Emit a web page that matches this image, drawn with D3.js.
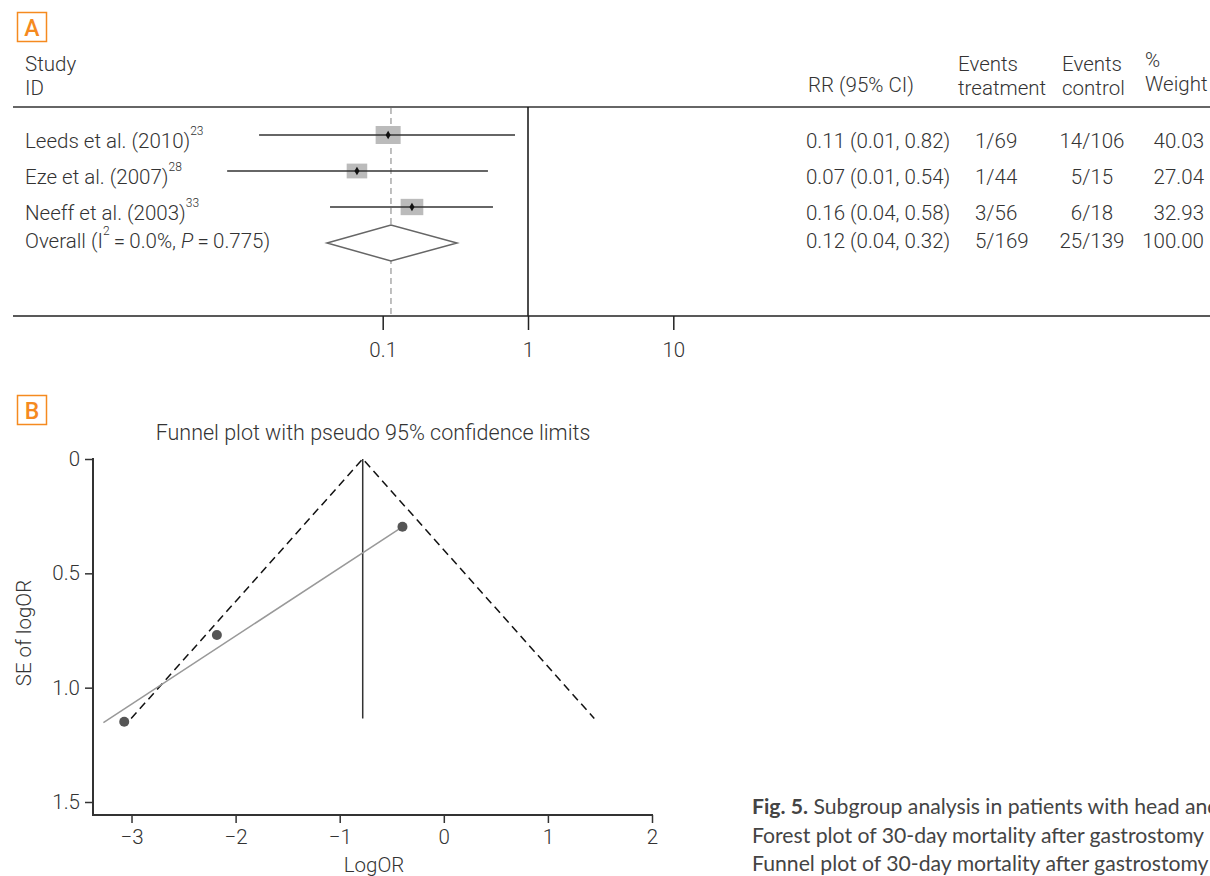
<!DOCTYPE html>
<html>
<head>
<meta charset="utf-8">
<script src="https://cdn.jsdelivr.net/npm/d3@7"></script>
<style>
  body { margin: 0; background: #fff; }
  svg { display: block; }
  text { font-family: Roboto, "Liberation Sans", sans-serif; font-weight: 300; fill: #333; }
</style>
</head>
<body>
<svg id="chart" width="1210" height="876"></svg>
<script>
// ---- panel A: forest plot data ----
const studies = ["Leeds et al. (2010)", "Eze et al. (2007)", "Neeff et al. (2003)"];
const refs = ["23", "28", "33"];
const rr = [0.109, 0.0665, 0.159];
const rrLo = [0.0141, 0.0085, 0.0434];
const rrHi = [0.814, 0.530, 0.574];
const weights = [40.03, 27.04, 32.93];
const overallRR = 0.114, overallLo = 0.0414, overallHi = 0.3246;
const ciText = ["0.11 (0.01, 0.82)", "0.07 (0.01, 0.54)", "0.16 (0.04, 0.58)", "0.12 (0.04, 0.32)"];
const evTreat = ["1/69", "1/44", "3/56", "5/169"];
const evCtrl = ["14/106", "5/15", "6/18", "25/139"];
const weightText = ["40.03", "27.04", "32.93", "100.00"];
const rrTicks = [0.1, 1, 10];

// ---- panel B: funnel plot data ----
const logOR = [-3.07, -2.18, -0.397];
const seLogOR = [1.149, 0.770, 0.296];
const pooledLogOR = -0.779;
const seMax = 1.135;
const eggerSE = [0.302, 1.153];
const eggerLogOR = [-0.416, -3.27];
const xTicksB = [-3, -2, -1, 0, 1, 2];
const yTicksB = [0, 0.5, 1.0, 1.5];

const svg = d3.select("#chart");
const orange = "#f58a1f";

function panelLabel(letter, x, y) {
  svg.append("rect").attr("x", x).attr("y", y).attr("width", 29).attr("height", 29)
    .attr("fill", "none").attr("stroke", orange).attr("stroke-width", 1.5);
  svg.append("text").attr("x", x + 14.5).attr("y", y + 23).attr("text-anchor", "middle")
    .style("font-family", "Roboto").style("font-weight", 500).style("font-size", "23px")
    .style("fill", orange).text(letter);
}

// ================= Panel A =================
panelLabel("A", 17.5, 12.5);

const x = d3.scaleLog().domain([0.1, 10]).range([382.7, 673.3]);
const yRow = d3.scaleLinear().domain([0, 3]).range([135, 243]);
const size = d3.scaleSqrt().domain([0, 40.03]).range([0, 25]);

const fs = "20.5px";
const A = svg.append("g").style("font-size", fs);

// header
A.append("text").attr("x", 25).attr("y", 71).text("Study");
A.append("text").attr("x", 25).attr("y", 95).text("ID");
A.append("text").attr("x", 808).attr("y", 92).text("RR (95% CI)");
A.append("text").attr("x", 958).attr("y", 71).text("Events");
A.append("text").attr("x", 958).attr("y", 95).text("treatment");
A.append("text").attr("x", 1062).attr("y", 71).text("Events");
A.append("text").attr("x", 1062).attr("y", 95).text("control");
A.append("text").attr("x", 1145).attr("y", 67).text("%");
A.append("text").attr("x", 1145).attr("y", 91).text("Weight");

A.append("line").attr("x1", 13).attr("x2", 1210).attr("y1", 107).attr("y2", 107)
  .attr("stroke", "#666").attr("stroke-width", 2);

// reference lines
A.append("line").attr("x1", x(overallRR)).attr("x2", x(overallRR)).attr("y1", 108).attr("y2", 316)
  .attr("stroke", "#aaa").attr("stroke-width", 1.5).attr("stroke-dasharray", "6,4");
A.append("line").attr("x1", x(1)).attr("x2", x(1)).attr("y1", 107).attr("y2", 316)
  .attr("stroke", "#111").attr("stroke-width", 1.5);

// study rows
studies.forEach((s, i) => {
  const cy = yRow(i);
  const w = size(weights[i]);
  A.append("rect").attr("x", x(rr[i]) - w / 2).attr("y", cy - w * 0.36)
    .attr("width", w).attr("height", w * 0.72).attr("fill", "#bbb");
  A.append("line").attr("x1", x(rrLo[i])).attr("x2", x(rrHi[i])).attr("y1", cy).attr("y2", cy)
    .attr("stroke", "#333").attr("stroke-width", 1.6);
  A.append("path").attr("d", d3.symbol(d3.symbolDiamond).size(22)())
    .attr("transform", `translate(${x(rr[i])},${cy})`).attr("fill", "#111");
  const t = A.append("text").attr("x", 25).attr("y", cy + 12.5);
  t.append("tspan").text(s);
  t.append("tspan").attr("dy", -13).style("font-size", "12px").text(refs[i]);
});

// overall row
const oy = yRow(3);
A.append("path")
  .attr("d", `M${x(overallLo)},${oy} L${x(overallRR)},${oy - 18} L${x(overallHi)},${oy} L${x(overallRR)},${oy + 18} Z`)
  .attr("fill", "#fff").attr("stroke", "#666").attr("stroke-width", 1.5);
const ot = A.append("text").attr("x", 25).attr("y", oy + 4.5);
ot.append("tspan").text("Overall (I");
ot.append("tspan").attr("dy", -13).style("font-size", "12px").text("2");
ot.append("tspan").attr("dy", 13).text("\u2009=\u20090.0%, ");
ot.append("tspan").style("font-style", "italic").text("P");
ot.append("tspan").text("\u2009=\u20090.775)");

// right columns
ciText.forEach((c, i) => {
  const by = yRow(i) + 12.5 - (i === 3 ? 8 : 0);
  A.append("text").attr("x", 806).attr("y", by).text(c);
  A.append("text").attr("x", 975).attr("y", by).text(evTreat[i]);
  A.append("text").attr("x", 1092).attr("y", by).attr("text-anchor", "middle").text(evCtrl[i]);
  A.append("text").attr("x", 1204).attr("y", by).attr("text-anchor", "end").text(weightText[i]);
});

// x axis
A.append("line").attr("x1", 13).attr("x2", 1210).attr("y1", 316).attr("y2", 316)
  .attr("stroke", "#222").attr("stroke-width", 1.5);
const axA = A.append("g").attr("transform", "translate(0,316)")
  .call(d3.axisBottom(x).tickValues(rrTicks).tickFormat(d => String(d)).tickSize(14).tickPadding(12));
axA.select(".domain").remove();
axA.selectAll("line").attr("stroke", "#222").attr("stroke-width", 1.5);
axA.selectAll("text").style("font-family", "Roboto").style("font-weight", 300).style("font-size", fs).attr("fill", "#444");

// ================= Panel B =================
panelLabel("B", 17.5, 395.5);

const xb = d3.scaleLinear().domain([-3.37, 2]).range([93, 652]);
const yb = d3.scaleLinear().domain([0, 1.5]).range([459, 802]);
const B = svg.append("g").style("font-size", fs);

B.append("text").attr("x", 373).attr("y", 440).attr("text-anchor", "middle").style("font-size", "21.5px")
  .text("Funnel plot with pseudo 95% confidence limits");

// axes
const axY = B.append("g").attr("transform", "translate(93,0)")
  .call(d3.axisLeft(yb).tickValues(yTicksB).tickFormat(d => d === 0 ? "0" : d3.format(".1f")(d)).tickSize(8).tickPadding(5));
axY.select(".domain").remove();
B.append("line").attr("x1", 93).attr("x2", 93).attr("y1", 458).attr("y2", 816)
  .attr("stroke", "#333").attr("stroke-width", 2);
const axX = B.append("g").attr("transform", "translate(0,815)")
  .call(d3.axisBottom(xb).tickValues(xTicksB).tickFormat(d => d < 0 ? "\u2212" + Math.abs(d) : String(d)).tickSize(8).tickPadding(6));
axX.select(".domain").remove();
B.append("line").attr("x1", 92).attr("x2", 653).attr("y1", 815).attr("y2", 815)
  .attr("stroke", "#333").attr("stroke-width", 2);
[axX, axY].forEach(a => {
  a.selectAll("line").attr("stroke", "#333").attr("stroke-width", 1.5);
  a.selectAll("text").style("font-family", "Roboto").style("font-weight", 300).style("font-size", fs).attr("fill", "#444");
});

B.append("text").attr("transform", "translate(31,633) rotate(-90)").attr("text-anchor", "middle").text("SE of logOR");
B.append("text").attr("x", 374).attr("y", 872).attr("text-anchor", "middle").text("LogOR");

// pseudo 95% limits
const funnel = [
  { lor: pooledLogOR - 1.96 * seMax, se: seMax },
  { lor: pooledLogOR, se: 0 },
  { lor: pooledLogOR + 1.96 * seMax, se: seMax }
];
B.append("path").datum(funnel)
  .attr("d", d3.line().x(d => xb(d.lor)).y(d => yb(d.se)))
  .attr("fill", "none").attr("stroke", "#111").attr("stroke-width", 1.5).attr("stroke-dasharray", "8,5");
B.append("line").attr("x1", xb(pooledLogOR)).attr("x2", xb(pooledLogOR))
  .attr("y1", yb(0)).attr("y2", yb(seMax)).attr("stroke", "#333").attr("stroke-width", 1.5);

// regression line
B.append("line").attr("x1", xb(eggerLogOR[0])).attr("y1", yb(eggerSE[0]))
  .attr("x2", xb(eggerLogOR[1])).attr("y2", yb(eggerSE[1]))
  .attr("stroke", "#999").attr("stroke-width", 1.5);

// studies
B.selectAll("circle.pt").data(logOR).enter().append("circle").attr("class", "pt")
  .attr("cx", d => xb(d)).attr("cy", (d, i) => yb(seLogOR[i])).attr("r", 5).attr("fill", "#555");

// ================= Caption (first line runs past the right edge, as in the source figure) =================
const capStyle = sel => sel.style("font-family", "Lato, 'Open Sans', sans-serif").style("font-weight", 400)
  .style("font-size", "21.2px").style("fill", "#444");
const c1 = svg.append("text").attr("x", 752).attr("y", 814).call(capStyle);
c1.append("tspan").style("font-weight", 700).text("Fig. 5.");
c1.append("tspan").text(" Subgroup analysis in patients with head and");
svg.append("text").attr("x", 752).attr("y", 843).call(capStyle)
  .text("Forest plot of 30-day mortality after gastrostomy");
svg.append("text").attr("x", 752).attr("y", 871).call(capStyle)
  .text("Funnel plot of 30-day mortality after gastrostomy");
</script>
</body>
</html>
